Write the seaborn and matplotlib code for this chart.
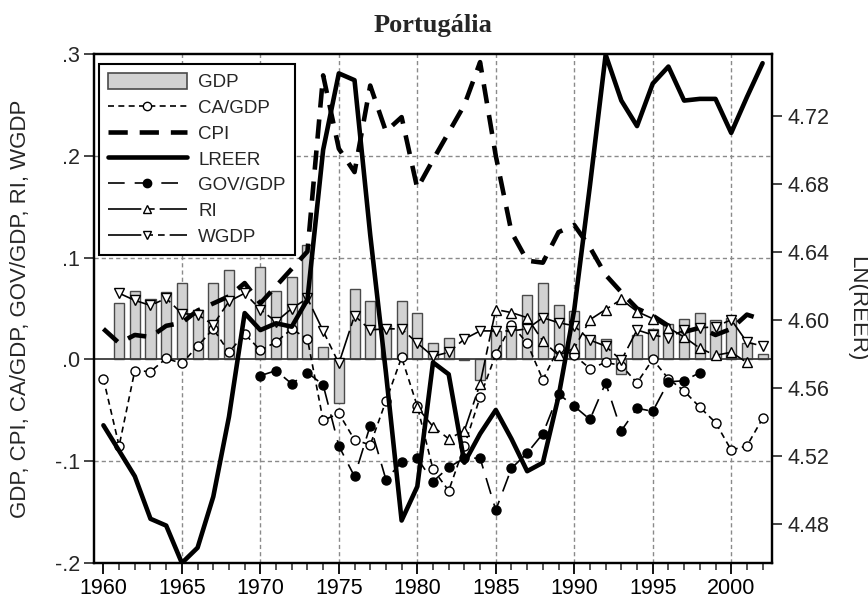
import numpy as np
import pandas as pd
import matplotlib
matplotlib.use("Agg")
import matplotlib.pyplot as plt
import seaborn as sns
from matplotlib.lines import Line2D
from matplotlib.patches import Patch
from matplotlib.ticker import FixedLocator, MultipleLocator, FuncFormatter

nan = np.nan
years = list(range(1960, 2003))

gdp = [nan, 0.055, 0.067, 0.059, 0.066, 0.075, 0.049, 0.075, 0.088, nan,
       0.091, 0.067, 0.081, 0.112, 0.012, -0.043, 0.069, 0.057, 0.034, 0.057,
       0.046, 0.016, 0.021, -0.001, -0.020, 0.028, 0.032, 0.063, 0.075, 0.053,
       0.048, 0.023, 0.020, -0.014, 0.024, 0.030, 0.035, 0.040, 0.046, 0.039,
       0.041, 0.016, 0.005]

ca_gdp = [-0.019, -0.085, -0.011, -0.012, 0.001, -0.004, 0.013, 0.030, 0.007, 0.025,
          0.009, 0.017, 0.030, 0.020, -0.060, -0.053, -0.079, -0.084, -0.041, 0.002,
          -0.046, -0.108, -0.129, -0.085, -0.037, 0.005, 0.034, 0.016, -0.020, 0.011,
          0.004, -0.009, -0.003, -0.006, -0.023, 0.000, -0.019, -0.031, -0.047, -0.062,
          -0.089, -0.085, -0.058]

cpi = [0.030, 0.016, 0.024, 0.022, 0.033, 0.036, 0.048, 0.055, 0.062, 0.075,
       0.055, 0.072, 0.089, 0.106, 0.279, 0.207, 0.184, 0.269, 0.224, 0.238,
       0.168, 0.196, 0.223, 0.250, 0.292, 0.200, 0.125, 0.097, 0.095, 0.125,
       0.132, 0.110, 0.083, 0.066, 0.050, 0.043, 0.033, 0.027, 0.031, 0.024,
       0.030, 0.044, 0.039]

lreer = [4.538, 4.523, 4.508, 4.483, 4.479, 4.457, 4.466, 4.496, 4.543, 4.604,
         4.594, 4.598, 4.596, 4.612, 4.700, 4.745, 4.741, 4.650, 4.569, 4.482,
         4.502, 4.575, 4.568, 4.516, 4.533, 4.547, 4.530, 4.511, 4.516, 4.555,
         4.606, 4.679, 4.756, 4.729, 4.714, 4.739, 4.749, 4.729, 4.730, 4.730,
         4.710, 4.731, 4.751]

gov_gdp = [nan] * 10 + [
    -0.016, -0.011, -0.024, -0.013, -0.025, -0.085, -0.115, -0.065, -0.118, -0.101,
    -0.097, -0.120, -0.106, -0.097, -0.097, -0.148, -0.107, -0.092, -0.073, -0.034,
    -0.046, -0.059, -0.023, -0.070, -0.048, -0.051, -0.022, -0.021, -0.013] + [nan] * 4

ri = [nan] * 20 + [
    -0.047, -0.066, -0.078, -0.070, -0.024, 0.049, 0.046, 0.041, 0.018, 0.004,
    0.011, 0.039, 0.049, 0.059, 0.047, 0.040, 0.031, 0.022, 0.011, 0.004,
    0.007, -0.003] + [nan]

wgdp = [nan,
        0.065, 0.058, 0.053, 0.060, 0.045, 0.044, 0.034, 0.057, 0.065,
        0.049, 0.037, 0.050, 0.060, 0.028, -0.004, 0.043, 0.029, 0.030, 0.030,
        0.016, 0.003, 0.007, 0.020, 0.028, 0.028, 0.028, 0.030, 0.041, 0.036,
        0.033, 0.019, 0.013, -0.001, 0.029, 0.024, 0.021, 0.029, 0.031, 0.032,
        0.039, 0.017, 0.013]

left_ticks = [-0.2, -0.1, 0.0, 0.1, 0.2, 0.3]
right_ticks = [4.48, 4.52, 4.56, 4.60, 4.64, 4.68, 4.72]
x_major = list(range(1960, 2001, 5))
x_grid = list(range(1965, 2001, 5))
y_grid = [-0.1, 0.1, 0.2]

df = pd.DataFrame({"year": years, "GDP": gdp, "CA/GDP": ca_gdp, "CPI": cpi,
                   "LREER": lreer, "GOV/GDP": gov_gdp, "RI": ri, "WGDP": wgdp})

sns.set_theme(style="ticks")
plt.rcParams['font.family'] = ['Liberation Sans', 'DejaVu Sans']

fig = plt.figure(figsize=(8.68, 6.01), dpi=100, facecolor="white")
ax = fig.add_axes([94 / 868, 1 - 563 / 601, 678 / 868, 509 / 601])
ax.set_axisbelow(True)

# dashed reference grid (no line at 1960)
grid_kw = dict(color="#8a8a8a", linestyle=(0, (3, 2.2)), linewidth=1.0, zorder=0.5)
for gx in x_grid:
    ax.axvline(gx, **grid_kw)
for gy in y_grid:
    ax.axhline(gy, **grid_kw)

bar_fc, bar_ec = "#d2d2d2", "#4a4a4a"
bars = df[["year", "GDP"]].dropna()
sns.barplot(data=bars, x="year", y="GDP", native_scale=True, width=0.64,
            color=bar_fc, edgecolor=bar_ec, linewidth=1.0, saturation=1,
            errorbar=None, ax=ax, zorder=2)

styles = {
    "CA/GDP": dict(lw=1.2, ls=(0, (3.6, 2.6)), marker="o", mfc="white"),
    "CPI": dict(lw=3.3, ls=(0, (4.2, 2.6)), marker=None, mfc="black"),
    "GOV/GDP": dict(lw=1.2, ls=(0, (10, 6)), marker="o", mfc="black"),
    "RI": dict(lw=1.2, ls=(0, (20, 3, 5, 3)), marker="^", mfc="white"),
    "WGDP": dict(lw=1.2, ls=(0, (20, 3, 4, 3, 4, 3)), marker="v", mfc="white"),
}

for name, st in styles.items():
    sub = df[["year", name]].dropna()
    kw = dict(color="black", lw=st["lw"], linestyle=st["ls"], errorbar=None,
              legend=False, ax=ax, zorder=3)
    if st["marker"]:
        kw.update(marker=st["marker"], markersize=6.5, markerfacecolor=st["mfc"],
                  markeredgecolor="black", markeredgewidth=1.0)
    sns.lineplot(x=sub["year"], y=sub[name], **kw)

ax.axhline(0, color="#3a3a3a", lw=1.3, zorder=2.5)

ax2 = ax.twinx()
sns.lineplot(x=df["year"], y=df["LREER"], color="black", lw=3.3, errorbar=None,
             legend=False, ax=ax2)

ax.set_xlim(1959.4, 2002.6)
ax.set_ylim(-0.2, 0.3)
ax2.set_ylim(4.457, 4.7564)

ax.xaxis.set_major_locator(FixedLocator(x_major))
ax.xaxis.set_minor_locator(MultipleLocator(1))
ax.xaxis.set_major_formatter(FuncFormatter(lambda v, p: f"{int(v)}"))
ax.yaxis.set_major_locator(FixedLocator(left_ticks))
ax.yaxis.set_major_formatter(FuncFormatter(
    lambda v, p: f"{v:.1f}".replace("0.", ".")))
ax2.yaxis.set_major_locator(FixedLocator(right_ticks))
ax2.yaxis.set_major_formatter(FuncFormatter(lambda v, p: f"{v:.2f}"))

ax.tick_params(axis="x", which="major", direction="out", length=8, width=1.3,
               labelsize=15.5, pad=3, top=False, colors="black")
ax.tick_params(axis="x", which="minor", direction="out", length=5, width=1.1,
               top=False)
ax.tick_params(axis="y", which="major", direction="out", length=7, width=1.2,
               labelsize=15.5, pad=3, right=False)
ax2.tick_params(axis="y", which="major", direction="out", length=7, width=1.2,
                labelsize=15.5, pad=4)

ax.grid(False)
ax2.grid(False)

for a in (ax, ax2):
    for s in a.spines.values():
        s.set_color("black")
        s.set_linewidth(1.6)
        s.set_visible(True)

ax.set_xlabel("")
ax.set_ylabel("GDP, CPI, CA/GDP, GOV/GDP, RI, WGDP", fontsize=16)
ax.yaxis.set_label_coords((21 - 94) / 678, 0.5)
ax.yaxis.label.set_va("center")
ax2.set_ylabel("LN(REER)", fontsize=16, rotation=270)
ax2.yaxis.set_label_coords((857 - 94) / 678, 0.5)
ax2.yaxis.label.set_va("center")

ax.set_title("Portugália", fontfamily=["Liberation Serif", "DejaVu Serif"],
             fontweight="bold", fontsize=19, pad=16)

handles = [
    Patch(facecolor=bar_fc, edgecolor=bar_ec, linewidth=1.2),
    Line2D([], [], color="black", lw=1.2, ls=styles["CA/GDP"]["ls"], marker="o",
           markersize=6, mfc="white", mec="black"),
    Line2D([], [], color="black", lw=3.3, ls=styles["CPI"]["ls"]),
    Line2D([], [], color="black", lw=3.3),
    Line2D([], [], color="black", lw=1.2, ls=styles["GOV/GDP"]["ls"], marker="o",
           markersize=6, mfc="black", mec="black"),
    Line2D([], [], color="black", lw=1.2, ls=styles["RI"]["ls"], marker="^",
           markersize=6, mfc="white", mec="black"),
    Line2D([], [], color="black", lw=1.2, ls=styles["WGDP"]["ls"], marker="v",
           markersize=6, mfc="white", mec="black"),
]
labels = ["GDP", "CA/GDP", "CPI", "LREER", "GOV/GDP", "RI", "WGDP"]
leg = ax2.legend(handles, labels, loc="upper left", bbox_to_anchor=(0.007, 0.981),
                 borderaxespad=0, frameon=True, fancybox=False, framealpha=1,
                 edgecolor="black", fontsize=13.5, handlelength=4.2,
                 handleheight=0.9, handletextpad=0.6, labelspacing=0.4,
                 borderpad=0.5)
leg.get_frame().set_linewidth(1.5)

fig.savefig("out.png", dpi=100, facecolor="white")
